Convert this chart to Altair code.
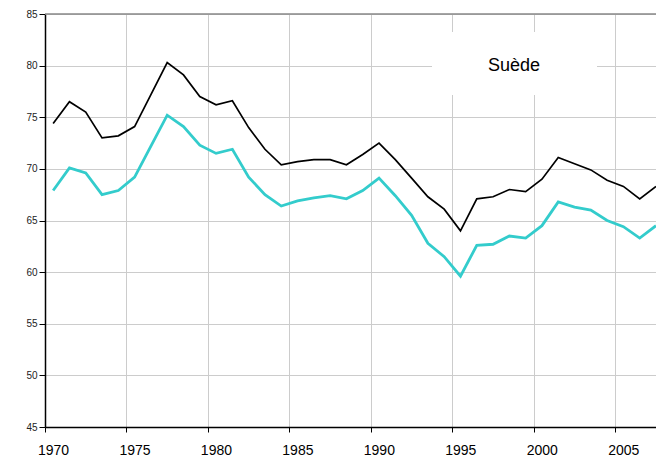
import altair as alt
import pandas as pd

years = list(range(1970, 2008))
black_series = [74.4, 76.5, 75.5, 73.0, 73.2, 74.1, 77.2, 80.3, 79.1, 77.0,
                76.2, 76.6, 74.0, 71.9, 70.4, 70.7, 70.9, 70.9, 70.4, 71.4,
                72.5, 70.9, 69.1, 67.3, 66.1, 64.0, 67.1, 67.3, 68.0, 67.8,
                69.0, 71.1, 70.5, 69.9, 68.9, 68.3, 67.1, 68.3]
teal_series = [67.9, 70.1, 69.6, 67.5, 67.9, 69.2, 72.2, 75.2, 74.1, 72.3,
               71.5, 71.9, 69.2, 67.5, 66.4, 66.9, 67.2, 67.4, 67.1, 67.9,
               69.1, 67.4, 65.5, 62.8, 61.5, 59.6, 62.6, 62.7, 63.5, 63.3,
               64.5, 66.8, 66.3, 66.0, 65.0, 64.4, 63.3, 64.5]
x_ticks = [1970, 1975, 1980, 1985, 1990, 1995, 2000, 2005]
y_ticks = [45, 50, 55, 60, 65, 70, 75, 80, 85]
y_top = 85
title_text = "Suède"

df = pd.DataFrame({
    "year": years * 2,
    "value": black_series + teal_series,
    "series": ["A"] * len(years) + ["B"] * len(years),
})

W, H = 611, 413

x_scale = alt.Scale(domain=[1970, 2007.5], nice=False, zero=False)
y_scale = alt.Scale(domain=[45, 85], nice=False, zero=False)

base = alt.Chart(df).transform_calculate(xm="datum.year + 0.5")

lines = base.mark_line(clip=True).encode(
    x=alt.X("xm:Q", scale=x_scale,
            axis=alt.Axis(values=x_ticks, format="d", title=None,
                          labelFontSize=14, labelColor="#000000",
                          labelFont="Liberation Sans", labelOffset=8,
                          labelPadding=11, tickSize=5, tickColor="#000000",
                          domainColor="#000000", domainWidth=1.5,
                          gridColor="#cccccc", labelFlush=False)),
    y=alt.Y("value:Q", scale=y_scale,
            axis=alt.Axis(values=y_ticks, title=None, labelFontSize=10,
                          labelColor="#222222", labelFont="Liberation Sans",
                          labelPadding=2, tickSize=6, tickColor="#000000",
                          domainColor="#000000", domainWidth=1.5,
                          gridColor="#cccccc")),
    color=alt.Color("series:N", scale=alt.Scale(domain=["A", "B"], range=["#000000", "#33CCCC"]), legend=None),
    strokeWidth=alt.StrokeWidth("series:N", scale=alt.Scale(domain=["A", "B"], range=[1.7, 2.8]), legend=None),
)

top_rule = alt.Chart(pd.DataFrame({"v": [y_top]})).mark_rule(color="#888888", strokeWidth=1.5).encode(
    y=alt.Y("v:Q", scale=y_scale)
)

box = alt.Chart(pd.DataFrame({"t": [title_text]})).mark_rect(color="white").encode(
    x=alt.value(387), x2=alt.value(552), y=alt.value(18), y2=alt.value(81)
)
label = alt.Chart(pd.DataFrame({"t": [title_text]})).mark_text(
    fontSize=18, font="Liberation Sans", color="#000000", baseline="middle", align="center"
).encode(text="t:N", x=alt.value(469), y=alt.value(52))

chart = alt.layer(lines, top_rule, box, label).properties(
    width=W, height=H,
    autosize=alt.AutoSizeParams(type="none"),
    padding={"left": 37, "top": 6, "right": 0, "bottom": 30},
).configure_view(stroke=None)

chart.save("out.html", embed_options={"renderer": "svg", "actions": False})
